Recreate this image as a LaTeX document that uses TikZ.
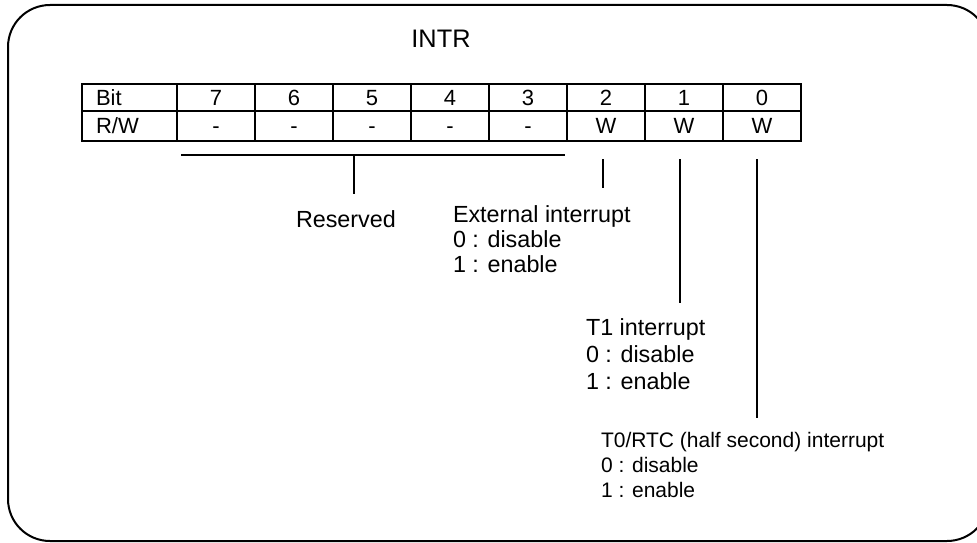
\documentclass[tikz,border=0pt]{standalone}
\usepackage{fontspec}
\setmainfont{Liberation Sans}
\begin{document}
\begin{tikzpicture}[x=0.75pt,y=-0.75pt,line width=1.5pt,
  cell/.style={draw,line width=1.5pt,inner xsep=0pt,inner ysep=0pt,minimum width=58.5pt,
    font=\fontsize{16.5}{19}\selectfont},
  headcell/.style={cell,minimum width=71.25pt,text width=50.25pt,inner xsep=10.5pt,align=left},
  lbl/.style={anchor=base west,inner sep=0pt,font=\fontsize{17.5}{20}\selectfont},
  smalllbl/.style={anchor=base west,inner sep=0pt,font=\fontsize{15.75}{18}\selectfont},
  conn/.style={line width=1.5pt}]
\useasboundingbox (0,0) rectangle (977,542);
\clip (0,0) rectangle (977,542);
% outer frame
\draw[line width=1.5pt,rounded corners=31.5pt] (8,5) rectangle (989,541);
% title
\node[anchor=base,inner sep=0pt,font=\fontsize{19}{22}\selectfont] (title) at (441,48) {INTR};
% table
\node[headcell,minimum height=20.25pt] (hbit) at (129.5,97.5) {\vphantom{0}Bit};
\node[headcell,minimum height=22.5pt] (hrw) at (129.5,126) {\vphantom{0}R/W};
\foreach \b [count=\k from 0] in {7,6,5,4,3,2,1,0}{
  \node[cell,minimum height=20.25pt] (b\b) at (216+78*\k,97.5) {\vphantom{0}\b};
}
\foreach \v/\b [count=\k from 0] in {-/7,-/6,-/5,-/4,-/3,W/2,W/1,W/0}{
  \node[cell,minimum height=22.5pt] (rw\b) at (216+78*\k,126) {\vphantom{0}\v};
}
% reserved bracket
\coordinate (rl) at (181,155);
\coordinate (rr) at (565,155);
\coordinate (rm) at (354,155);
\coordinate (rb) at (354,194);
\draw[conn] (rl) -- (rr);
\draw[conn] (rm) -- (rb);
% bit leaders
\coordinate (t2) at (603,159); \coordinate (e2) at (603,188);
\coordinate (t1) at (680,159); \coordinate (e1) at (680,303);
\coordinate (t0) at (757,159); \coordinate (e0) at (757,418);
\draw[conn] (t2) -- (e2);
\draw[conn] (t1) -- (e1);
\draw[conn] (t0) -- (e0);
% labels
\node[lbl] (res) at (295,227) {Reserved};
\node[lbl] (ext1) at (452,222) {External interrupt};
\node[lbl] (ext2) at (452,247) {0 : disable};
\node[lbl] (ext3) at (452,272) {1 : enable};
\node[lbl] (tone1) at (585,335) {T1 interrupt};
\node[lbl] (tone2) at (585,362) {0 : disable};
\node[lbl] (tone3) at (585,389) {1 : enable};
\node[smalllbl] (tz1) at (600,447) {T0/RTC (half second) interrupt};
\node[smalllbl] (tz2) at (600,472) {0 : disable};
\node[smalllbl] (tz3) at (600,497) {1 : enable};
\end{tikzpicture}
\end{document}
